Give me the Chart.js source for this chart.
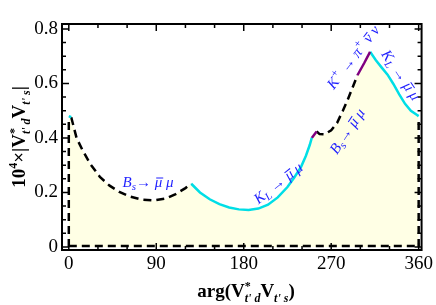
<!DOCTYPE html>
<html lang="en">
<head>
<meta charset="UTF-8" />
<title>|V*t'd Vt's| vs arg</title>
<script src="https://cdn.jsdelivr.net/npm/chart.js"></script>
<style>
  html, body { margin: 0; padding: 0; background: #fff; }
</style>
</head>
<body>
<canvas id="c" width="436" height="305"></canvas>
<script>
// arg(V*t'd Vt's) in degrees and 10^4 |V*t'd Vt's|
const cyanAX = [0, 2.5];
const cyanAY = [0.48, 0.476];
const dashAX = [2.5, 8, 14, 22, 32, 42, 52, 62, 75, 88, 100, 110, 120, 126];
const dashAY = [0.476, 0.40, 0.356, 0.305, 0.257, 0.225, 0.202, 0.186, 0.174, 0.171, 0.178, 0.194, 0.216, 0.232];
const cyanBX = [126, 135, 145, 155, 165, 175, 185, 195, 205, 215, 225, 232, 239, 244, 248, 250];
const cyanBY = [0.232, 0.200, 0.175, 0.157, 0.145, 0.138, 0.136, 0.141, 0.155, 0.182, 0.220, 0.255, 0.294, 0.335, 0.375, 0.400];
const purpleAX = [250, 255];
const purpleAY = [0.400, 0.424];
const dashBX = [255, 258, 263, 270, 276, 282, 287, 292, 297];
const dashBY = [0.424, 0.414, 0.413, 0.428, 0.455, 0.500, 0.540, 0.585, 0.630];
const purpleBX = [297, 304, 310];
const purpleBY = [0.630, 0.675, 0.716];
const cyanCX = [310, 316, 322, 328, 334, 340, 346, 352, 358, 360];
const cyanCY = [0.716, 0.685, 0.658, 0.632, 0.598, 0.560, 0.525, 0.500, 0.485, 0.480];
// dashed outline of the allowed region
const boxBottomX = [0, 360];
const boxBottomY = [0.004, 0.004];
const boxLeftX = [0, 0];
const boxLeftY = [0, 0.47];
const boxRightX = [360, 360];
const boxRightY = [0, 0.476];

const xTickValues = [0, 90, 180, 270, 360];
const yTickValues = [0, 0.2, 0.4, 0.6, 0.8];
const yTickLabels = ['0', '0.2', '0.4', '0.6', '0.8'];

const FONT = '"Liberation Serif", "Times New Roman", serif';
const CYAN = 'rgb(0,222,230)';
const PURPLE = 'rgb(128,0,128)';
const FILL = 'rgb(255,255,229)';
const LABEL = 'rgb(30,30,255)';

function pts(xs, ys) {
    return xs.map((x, i) => ({ x: x, y: ys[i] }));
}

function curve(xs, ys, color, dash) {
    return {
        data: pts(xs, ys),
        showLine: true,
        borderColor: color,
        borderWidth: 2.5,
        borderDash: dash || [],
        pointRadius: 0,
        fill: false,
        order: 1
    };
}

const allX = [].concat(cyanAX, dashAX, cyanBX, purpleAX, dashBX, purpleBX, cyanCX);
const allY = [].concat(cyanAY, dashAY, cyanBY, purpleAY, dashBY, purpleBY, cyanCY);

// draws a run of text pieces (sub/superscripts, overbars) starting at x,y
function richText(ctx, parts, x, y, align) {
    let total = 0;
    parts.forEach(p => {
        ctx.font = p.f;
        p.w = ctx.measureText(p.t).width;
        if (!p.stack) total += p.w;
    });
    let cx = align === 'center' ? x - total / 2 : x;
    ctx.textBaseline = 'alphabetic';
    ctx.textAlign = 'left';
    parts.forEach(p => {
        ctx.font = p.f;
        ctx.fillText(p.t, cx, y + (p.dy || 0));
        if (p.bar) {
            ctx.save();
            ctx.lineWidth = 1;
            ctx.strokeStyle = ctx.fillStyle;
            ctx.beginPath();
            ctx.moveTo(cx + 1.5, y - 9);
            ctx.lineTo(cx + p.w + 1, y - 9);
            ctx.stroke();
            ctx.restore();
        }
        if (!p.stack) cx += p.w;
    });
}

const B = 'bold 19px ' + FONT;
const Bs = 'bold 12px ' + FONT;
const Bis = 'italic bold 12px ' + FONT;
const I = 'italic 15px ' + FONT;
const Is = 'italic 11px ' + FONT;
const R = '15px ' + FONT;

const yTitle = [
    { t: '10', f: B }, { t: '4', f: Bs, dy: -8 }, { t: '\u00d7|V', f: B },
    { t: '*', f: Bs, dy: -7, stack: true }, { t: "t' d", f: Bis, dy: 5 },
    { t: 'V', f: B }, { t: "t' s", f: Bis, dy: 5 }, { t: '|', f: B }
];
const xTitle = [
    { t: 'arg(V', f: B }, { t: '*', f: Bs, dy: -7, stack: true }, { t: "t' d", f: Bis, dy: 5 },
    { t: 'V', f: B }, { t: "t' s", f: Bis, dy: 5 }, { t: ')', f: B }
];
const bsLabel = [
    { t: 'B', f: I }, { t: 's', f: Is, dy: 3 }, { t: '\u2192 ', f: R },
    { t: '\u03bc', f: I, bar: true }, { t: ' \u03bc', f: I }
];
const klLabel = [
    { t: 'K', f: I }, { t: 'L', f: Is, dy: 3 }, { t: ' \u2192 ', f: R },
    { t: '\u03bc', f: I, bar: true }, { t: ' \u03bc', f: I }
];
const kpLabel = [
    { t: 'K', f: I }, { t: '+', f: Is, dy: -6 }, { t: ' \u2192 ', f: R },
    { t: '\u03c0', f: I }, { t: '+', f: Is, dy: -6 }, { t: ' ', f: I },
    { t: '\u03bd', f: I, bar: true }, { t: ' \u03bd', f: I }
];

const decor = {
    id: 'decor',
    afterDraw(chart) {
        const ctx = chart.ctx;
        const a = chart.chartArea;
        const xs = chart.scales.x, ys = chart.scales.y;
        ctx.save();
        ctx.strokeStyle = '#000';
        ctx.lineWidth = 2;
        ctx.strokeRect(a.left, a.top, a.right - a.left, a.bottom - a.top);
        ctx.lineWidth = 1.5;
        ctx.beginPath();
        for (let v = 0; v <= 360; v += 30) {
            const px = xs.getPixelForValue(v);
            const len = v % 90 === 0 ? 7 : 4;
            ctx.moveTo(px, a.bottom); ctx.lineTo(px, a.bottom - len);
            ctx.moveTo(px, a.top); ctx.lineTo(px, a.top + len);
        }
        for (let k = 0; k <= 16; k++) {
            const py = ys.getPixelForValue(k * 0.05);
            const len = k % 4 === 0 ? 7 : 4;
            ctx.moveTo(a.left, py); ctx.lineTo(a.left + len, py);
            ctx.moveTo(a.right, py); ctx.lineTo(a.right - len, py);
        }
        ctx.stroke();

        // axis titles
        ctx.fillStyle = '#000';
        richText(ctx, xTitle, 246, 297, 'center');
        ctx.save();
        ctx.translate(25, 137);
        ctx.rotate(-Math.PI / 2);
        richText(ctx, yTitle, 0, 0, 'center');
        ctx.restore();

        // curve labels
        ctx.fillStyle = LABEL;
        const place = (parts, x, y, deg) => {
            ctx.save();
            ctx.translate(x, y);
            ctx.rotate(deg * Math.PI / 180);
            richText(ctx, parts, 0, 5, 'center');
            ctx.restore();
        };
        place(bsLabel, 148, 182, 0);
        place(klLabel, 278, 183, -38);
        place(bsLabel, 347, 131, -56);
        place(kpLabel, 353, 57, -52);
        place(klLabel, 401, 75, 56);
        ctx.restore();
    }
};

new Chart(document.getElementById('c'), {
    type: 'scatter',
    data: {
        datasets: [
            curve(cyanAX, cyanAY, CYAN),
            curve(dashAX, dashAY, '#000', [8, 5]),
            curve(cyanBX, cyanBY, CYAN),
            curve(purpleAX, purpleAY, PURPLE),
            curve(dashBX, dashBY, '#000', [8, 5]),
            curve(purpleBX, purpleBY, PURPLE),
            curve(cyanCX, cyanCY, CYAN),
            curve(boxBottomX, boxBottomY, '#000', [8, 5]),
            curve(boxLeftX, boxLeftY, '#000', [8, 5]),
            curve(boxRightX, boxRightY, '#000', [8, 5]),
            {
                data: pts(allX, allY),
                showLine: true,
                borderWidth: 0,
                pointRadius: 0,
                backgroundColor: FILL,
                fill: 'origin',
                order: 10
            }
        ]
    },
    options: {
        responsive: false,
        animation: false,
        devicePixelRatio: 1,
        layout: { padding: { top: 24, right: 11, left: 0, bottom: 0 } },
        plugins: { legend: { display: false }, tooltip: { enabled: false } },
        scales: {
            x: {
                type: 'linear',
                min: -7,
                max: 363,
                afterBuildTicks: s => { s.ticks = xTickValues.map(v => ({ value: v })); },
                afterFit: s => { s.height = 55; },
                grid: { display: false, drawTicks: false },
                border: { display: false },
                ticks: { font: { family: FONT, size: 19 }, color: '#000', padding: 3, maxRotation: 0, autoSkip: false }
            },
            y: {
                type: 'linear',
                min: -0.011,
                max: 0.818,
                afterBuildTicks: s => { s.ticks = yTickValues.map(v => ({ value: v })); },
                afterFit: s => { s.width = 62; },
                grid: { display: false, drawTicks: false },
                border: { display: false },
                ticks: {
                    font: { family: FONT, size: 19 },
                    color: '#000',
                    padding: 4,
                    autoSkip: false,
                    callback: (v, i) => yTickLabels[i]
                }
            }
        }
    },
    plugins: [decor]
});
</script>
</body>
</html>
